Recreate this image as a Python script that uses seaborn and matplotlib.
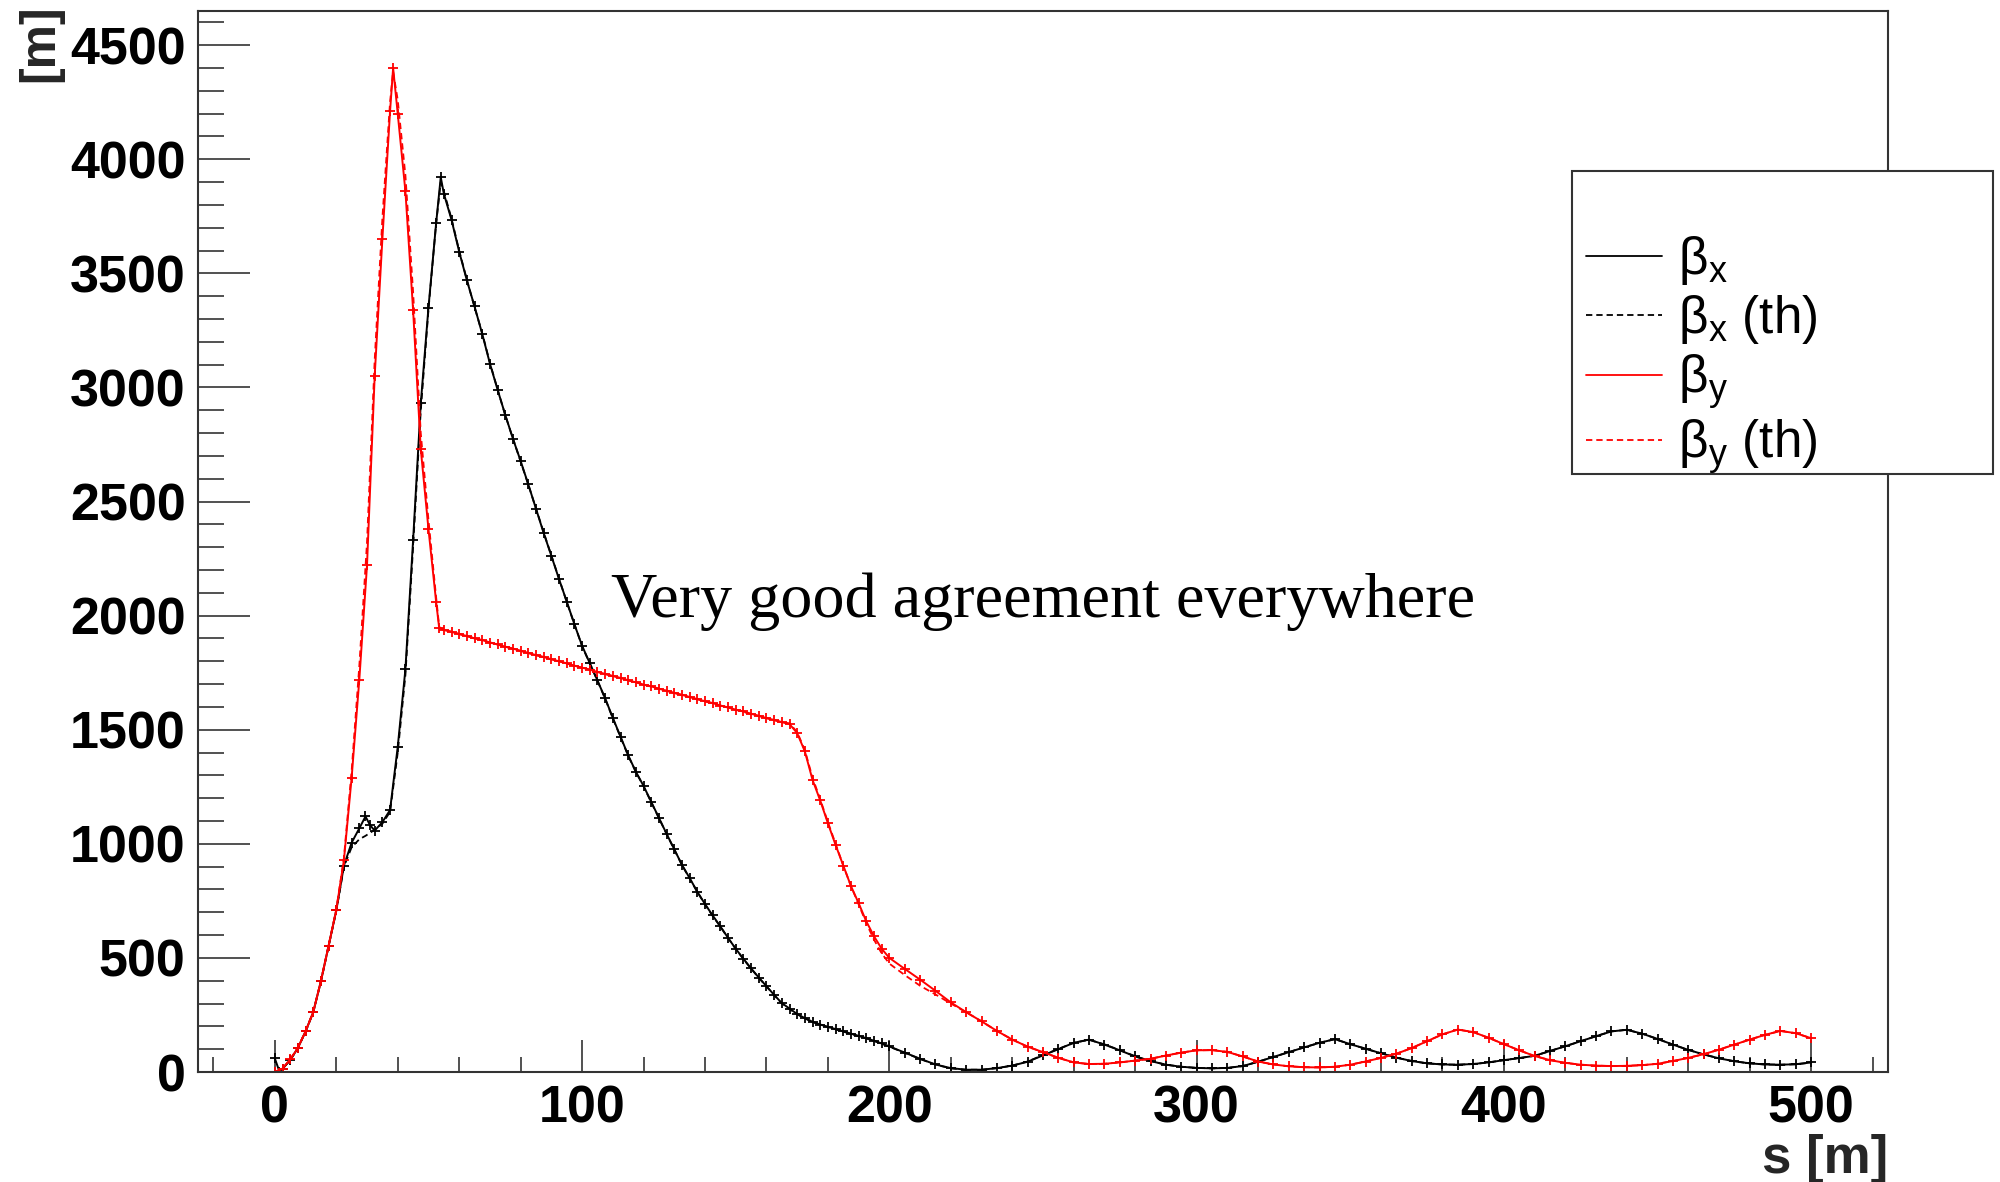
import matplotlib
matplotlib.use("Agg")
import matplotlib.pyplot as plt
from matplotlib.lines import Line2D
from matplotlib.patches import Rectangle
from matplotlib.ticker import MultipleLocator
import seaborn as sns

# ---------------------------------------------------------------- data
# horizontal plane: position along the line [m]
s_x = [0, 1.5, 2.5, 5, 7.5, 10, 12.5, 15, 17.5, 20, 22.5, 25, 27.5, 29.5, 31,
       32.5, 35, 37.5, 40, 42.5, 45, 47.5, 50, 52.5, 54, 55, 57.5, 60, 62.5,
       65, 67.5, 70, 72.5, 75, 77.5, 80, 82.5, 85, 87.5, 90, 92.5, 95, 97.5,
       100, 102.5, 105, 107.5, 110, 112.5, 115, 117.5, 120, 122.5, 125, 127.5,
       130, 132.5, 135, 137.5, 140, 142.5, 145, 147.5, 150, 152.5, 155, 157.5,
       160, 162.5, 165, 167.5, 170, 172.5, 175, 177.5, 180, 182.5, 185, 187.5,
       190, 192.5, 195, 197.5, 200, 205, 210, 215, 220, 225, 230, 235, 240,
       245, 250, 255, 260, 265, 270, 275, 280, 285, 290, 295, 300, 305, 310,
       315, 320, 325, 330, 335, 340, 345, 350, 355, 360, 365, 370, 375, 380,
       385, 390, 395, 400, 405, 410, 415, 420, 425, 430, 435, 440, 445, 450,
       455, 460, 465, 470, 475, 480, 485, 490, 495, 500]

# measured beta_x [m]
beta_x = [60, 2, 14, 52, 105, 178, 262, 398, 552, 708, 905, 1005, 1068, 1120,
          1082, 1058, 1095, 1148, 1425, 1765, 2330, 2930, 3350, 3720, 3922,
          3850, 3735, 3595, 3470, 3355, 3235, 3105, 2990, 2880, 2775, 2678,
          2575, 2468, 2362, 2262, 2160, 2062, 1962, 1868, 1792, 1716, 1638,
          1552, 1470, 1388, 1316, 1254, 1184, 1114, 1044, 976, 908, 850, 790,
          736, 686, 638, 588, 540, 496, 454, 414, 376, 338, 302, 278, 254, 236,
          220, 208, 198, 188, 178, 168, 158, 148, 137, 125, 112, 85, 58, 33,
          17, 10, 10, 17, 28, 45, 73, 100, 128, 142, 120, 95, 68, 48, 32, 23,
          18, 16, 18, 26, 45, 66, 87, 108, 128, 144, 122, 102, 82, 63, 48, 38,
          33, 32, 35, 42, 52, 61, 71, 92, 113, 135, 157, 178, 185, 168, 145,
          120, 97, 77, 60, 47, 38, 33, 32, 34, 42]

# model beta_x [m]
beta_x_th = [0, 5, 14, 52, 105, 176, 262, 396, 550, 705, 900, 985, 1020, 1035,
             1048, 1062, 1088, 1140, 1400, 1740, 2300, 2900, 3340, 3720, 3900,
             3860, 3740, 3600, 3472, 3352, 3238, 3108, 2992, 2878, 2776, 2675,
             2574, 2470, 2365, 2264, 2162, 2060, 1963, 1866, 1790, 1715, 1636,
             1550, 1468, 1386, 1315, 1252, 1182, 1113, 1043, 975, 907, 848, 789,
             735, 684, 637, 587, 540, 495, 453, 413, 375, 337, 300, 276, 253,
             235, 219, 207, 197, 187, 177, 167, 157, 147, 136, 124, 111, 84, 57,
             32, 16, 10, 10, 17, 28, 46, 74, 101, 128, 141, 121, 96, 69, 48, 32,
             23, 18, 16, 18, 26, 45, 66, 87, 108, 128, 144, 122, 102, 82, 63, 48,
             38, 33, 32, 35, 42, 52, 61, 71, 92, 113, 135, 157, 178, 185, 168,
             145, 120, 97, 77, 60, 47, 38, 33, 32, 34, 41]

# vertical plane: position along the line [m]
s_y = [0, 2.5, 5, 7.5, 10, 12.5, 15, 17.5, 20, 22.5, 25, 27.5, 30, 32.5, 35,
       37.5, 38.5, 40, 42.5, 45, 47.5, 50, 52.5, 53.5, 55, 57.5, 60, 62.5, 65,
       67.5, 70, 72.5, 75, 77.5, 80, 82.5, 85, 87.5, 90, 92.5, 95, 97.5, 100,
       102.5, 105, 107.5, 110, 112.5, 115, 117.5, 120, 122.5, 125, 127.5, 130,
       132.5, 135, 137.5, 140, 142.5, 145, 147.5, 150, 152.5, 155, 157.5, 160,
       162.5, 165, 167.5, 170, 172.5, 175, 177.5, 180, 182.5, 185, 187.5, 190,
       192.5, 195, 197.5, 200, 205, 210, 215, 220, 225, 230, 235, 240, 245,
       250, 255, 260, 265, 270, 275, 280, 285, 290, 295, 300, 305, 310, 315,
       320, 325, 330, 335, 340, 345, 350, 355, 360, 365, 370, 375, 380, 385,
       390, 395, 400, 405, 410, 415, 420, 425, 430, 435, 440, 445, 450, 455,
       460, 465, 470, 475, 480, 485, 490, 495, 500]

# measured beta_y [m]
beta_y = [0, 15, 55, 105, 178, 262, 398, 552, 710, 930, 1290, 1720, 2220,
          3050, 3650, 4210, 4400, 4200, 3860, 3340, 2730, 2380, 2060, 1945,
          1937, 1929, 1919, 1911, 1900, 1893, 1882, 1874, 1864, 1856, 1845,
          1837, 1827, 1819, 1808, 1800, 1791, 1781, 1772, 1764, 1753, 1745,
          1735, 1727, 1716, 1708, 1698, 1690, 1680, 1671, 1662, 1653, 1643,
          1634, 1625, 1617, 1606, 1598, 1588, 1580, 1570, 1561, 1551, 1543,
          1533, 1525, 1485, 1405, 1280, 1190, 1090, 995, 905, 815, 740, 660,
          595, 540, 500, 452, 405, 356, 305, 262, 222, 180, 142, 111, 87, 62,
          42, 35, 36, 42, 50, 58, 72, 85, 95, 96, 88, 68, 46, 33, 25, 21, 20,
          23, 32, 46, 62, 80, 105, 135, 165, 186, 175, 150, 122, 95, 70, 52,
          40, 32, 28, 26, 27, 30, 36, 48, 62, 78, 98, 120, 142, 163, 180, 170,
          148]

# model beta_y [m]
beta_y_th = [0, 15, 56, 106, 180, 264, 400, 556, 712, 940, 1320, 1780, 2320,
             3120, 3740, 4250, 4385, 4260, 3930, 3420, 2800, 2420, 2080, 1950,
             1938, 1930, 1920, 1910, 1901, 1892, 1883, 1873, 1864, 1855, 1846,
             1836, 1827, 1818, 1809, 1800, 1790, 1781, 1772, 1763, 1754, 1744,
             1735, 1726, 1717, 1708, 1698, 1689, 1680, 1671, 1661, 1652, 1643,
             1634, 1624, 1615, 1606, 1597, 1588, 1578, 1569, 1560, 1551, 1542,
             1533, 1528, 1490, 1410, 1290, 1195, 1095, 1000, 905, 815, 735, 652,
             580, 520, 475, 425, 378, 340, 300, 262, 222, 180, 142, 111, 87, 62,
             42, 35, 36, 42, 50, 58, 72, 85, 95, 96, 88, 68, 46, 33, 25, 21, 20,
             23, 32, 46, 62, 80, 105, 135, 165, 186, 175, 150, 122, 95, 70, 52,
             40, 32, 28, 26, 27, 30, 36, 48, 62, 78, 98, 120, 142, 163, 180, 170,
             148]

legend_labels = [r"β$_{x}$", r"β$_{x}$ (th)", r"β$_{y}$", r"β$_{y}$ (th)"]
note_text = "Very good agreement everywhere"

# ---------------------------------------------------------------- style
sns.set_theme(style="white")
plt.rcParams["font.family"] = ["Liberation Sans", "DejaVu Sans"]
plt.rcParams["font.weight"] = "bold"
plt.rcParams["mathtext.default"] = "regular"
plt.rcParams["text.color"] = "black"

RED = "#ff0000"
BLACK = "#000000"
DASH = (0, (3.5, 2.2))

fig = plt.figure(figsize=(20, 11.82), dpi=100)
fig.patch.set_facecolor("white")
ax = fig.add_axes([0.099, 0.09306, 0.845, 0.89763])
ax.set_facecolor("white")

th_kw = dict(lw=1.3, linestyle=DASH, estimator=None, sort=False, legend=False)


def meas_kw(col):
    return dict(lw=1.4, marker="+", markersize=7, markeredgewidth=1.3,
                markeredgecolor=col, markerfacecolor=col,
                estimator=None, sort=False, legend=False)


sns.lineplot(x=s_x, y=beta_x_th, ax=ax, color=BLACK, **th_kw)
sns.lineplot(x=s_x, y=beta_x, ax=ax, color=BLACK, **meas_kw(BLACK))
sns.lineplot(x=s_y, y=beta_y_th, ax=ax, color=RED, **th_kw)
sns.lineplot(x=s_y, y=beta_y, ax=ax, color=RED, **meas_kw(RED))

# axes ranges and ticks
ax.set_xlim(-25, 525)
ax.set_ylim(0, 4650)
ax.xaxis.set_major_locator(MultipleLocator(100))
ax.xaxis.set_minor_locator(MultipleLocator(20))
ax.yaxis.set_major_locator(MultipleLocator(500))
ax.yaxis.set_minor_locator(MultipleLocator(100))

tick_col = "#222222"
ax.tick_params(axis="x", which="major", direction="in", length=23, width=1.1,
               color=tick_col, labelsize=37.5, pad=9, labelcolor="black",
               top=False, bottom=True)
ax.tick_params(axis="x", which="minor", direction="in", length=11, width=1.1,
               color=tick_col, top=False, bottom=True)
ax.tick_params(axis="y", which="major", direction="in", length=37.5, width=1.1,
               color=tick_col, labelsize=37.5, pad=9, labelcolor="black",
               right=False, left=True)
ax.tick_params(axis="y", which="minor", direction="in", length=18.7, width=1.1,
               color=tick_col, right=False, left=True)

for sp in ax.spines.values():
    sp.set_visible(True)
    sp.set_color("#333333")
    sp.set_linewidth(1.5)

ax.set_xlabel("s [m]", fontsize=38, fontweight="bold", loc="right")
ax.xaxis.set_label_coords(1.0, -0.058)
ax.set_ylabel("[m]", fontsize=36, fontweight="bold", loc="top")
ax.yaxis.set_label_coords(-0.08, 1.006)

ax.text(109.3, 1996, note_text, family=["Liberation Serif", "DejaVu Serif"],
        fontsize=46.2, fontweight="normal", ha="left", va="baseline")

# legend box and entries
fig.add_artist(Rectangle((0.786, 0.599), 0.2105, 0.2564,
                         transform=fig.transFigure, facecolor="white",
                         edgecolor="#333333", lw=1.5, zorder=5))
handles = [
    Line2D([], [], color=BLACK, lw=1.3),
    Line2D([], [], color=BLACK, lw=1.3, linestyle=DASH),
    Line2D([], [], color=RED, lw=1.3),
    Line2D([], [], color=RED, lw=1.3, linestyle=DASH),
]
leg = fig.legend(handles, legend_labels, loc="upper left",
                 bbox_to_anchor=(0.793, 0.802), bbox_transform=fig.transFigure,
                 frameon=False, prop={"size": 37, "weight": "normal"},
                 handlelength=1.48, handletextpad=0.31, labelspacing=0.12,
                 borderpad=0, borderaxespad=0)
leg.set_zorder(6)

fig.savefig("out.png", dpi=100, facecolor="white")
